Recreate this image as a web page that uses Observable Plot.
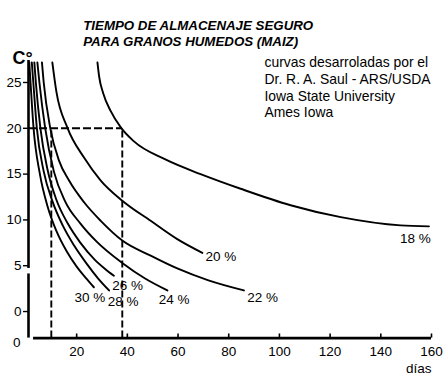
<!DOCTYPE html>
<html><head><meta charset="utf-8">
<script src="https://cdn.jsdelivr.net/npm/d3@7"></script>
<script src="https://cdn.jsdelivr.net/npm/@observablehq/plot@0.6"></script>
<style>
html,body{margin:0;padding:0;background:#fff;}
</style></head><body><div id="chart"></div>
<script>
// ---- data ----
const titleLines = ["TIEMPO DE ALMACENAJE SEGURO", "PARA GRANOS HUMEDOS (MAIZ)"];
const noteLines = ["curvas desarroladas por el", "Dr. R. A. Saul - ARS/USDA", "Iowa State University", "Ames Iowa"];
const yUnit = "C°";
const xUnit = "días";
const xTicks = [20, 40, 60, 80, 100, 120, 140, 160];
const yTicks = [0, 5, 10, 15, 20, 25];
const yFloor = -2.9;     // where the (broken) temperature axis meets the day axis, labelled "0"
const yTop = 27.4;
const xStart = 1;
const yAxisBreak = [4.1, 4.7];

const moisture = ["18 %", "20 %", "22 %", "24 %", "26 %", "28 %", "30 %"];
// [days, °C]
const curve18 = [[28.2,27.2],[28.9,25.6],[30.5,23.8],[33.4,21.9],[37.4,20.1],[42.5,18.6],[55,16.6],[68.9,15.0],[84.7,13.4],[104.4,11.6],[124.2,10.3],[147.8,9.4],[159,9.3]];
const curve20 = [[10.4,27.2],[12,24],[16.3,20.1],[22.9,16.8],[29.5,14.3],[38,12.1],[49.2,9.9],[59.7,7.9],[69.6,6.4]];
const curve22 = [[6.3,27.2],[7,25],[9.6,20],[13,16.5],[17,14.3],[23,11.9],[29.5,9.9],[38,7.75],[49.2,6.1],[59.7,4.7],[72,3.4],[86,2.3]];
const curve24 = [[4.5,27.2],[5.3,25],[7.6,20],[11,15.3],[15.5,12],[21.5,9.6],[28,7.6],[38,5.3],[47,3.6],[55.8,2.3]];
const curve26 = [[3.3,27.2],[3.9,25],[5.7,20],[8.5,15.5],[12,12.2],[16.5,9.6],[21.5,7.5],[27,5.7],[31,4.7],[34.7,3.9]];
const curve28 = [[2.3,27.2],[2.9,25],[4.3,20],[7,15.3],[10.5,12],[14.5,9.4],[19,7.2],[24,5.2],[28.5,3.6],[32.8,2.3]];
const curve30 = [[1.3,27.2],[1.8,25],[3,20],[5.5,15],[8.5,11.5],[12,8.8],[16,6.6],[20,4.9],[23.5,3.7],[26.8,2.65]];
const curves = [curve18, curve20, curve22, curve24, curve26, curve28, curve30];

// label anchors (left edge) in days / °C
const labelDays = [147.6, 70.8, 87.3, 52.4, 34.0, 32.3, 19.1];
const labelTemps = [7.97, 6.0, 1.56, 1.31, 2.84, 1.1, 1.5];

// example reading: 20 °C
const readTemp = 20;
const readDays = [10, 38];

// ---- tables ----
const rows = curves.flatMap((c, i) => c.map(([day, temp]) => ({pct: moisture[i], day, temp})));
const labels = moisture.map((t, i) => ({text: t, day: labelDays[i], temp: labelTemps[i]}));
const yAxisSegments = [[yFloor, yAxisBreak[0]], [yAxisBreak[1], yTop]];

const font = "'Liberation Sans', Arial, Helvetica, sans-serif";

const chart = Plot.plot({
  width: 443,
  height: 384,
  marginLeft: 28,
  marginRight: 12,
  marginTop: 60,
  marginBottom: 46.4,
  x: {domain: [xStart, 160]},
  y: {domain: [yFloor, yTop]},
  style: {fontFamily: font, fontSize: "13px", background: "#fff", color: "#000"},
  marks: [
    // axes lines
    Plot.ruleX(yAxisSegments, {x: () => xStart, y1: d => d[0], y2: d => d[1], stroke: "#000", strokeWidth: 2.6}),
    Plot.ruleY([yFloor], {x1: 3, x2: 160, stroke: "#000", strokeWidth: 2.6}),
    Plot.ruleX(xTicks, {x: d => d, y1: yFloor, y2: yFloor + 0.45, stroke: "#000", strokeWidth: 1.6}),
    Plot.axisY(yTicks, {anchor: "left", tickSize: 5, tickPadding: 2, fontSize: 13.5, label: null, strokeWidth: 1.4}),
    Plot.axisX(xTicks, {anchor: "bottom", tickSize: 0, tickPadding: 8, fontSize: 13.5, label: null}),
    Plot.text([yFloor], {frameAnchor: "left", y: d => d, text: () => "0", textAnchor: "end", dx: -8, dy: 4.5, fontSize: 13.5}),
    Plot.text([xUnit], {frameAnchor: "bottom-right", text: d => d, textAnchor: "end", dy: 34.5, fontSize: 13.5}),
    Plot.text([yUnit], {frameAnchor: "top-left", text: d => d, textAnchor: "start", dx: -16, dy: -9, fontSize: 18, fontWeight: "bold"}),
    // reading lines
    Plot.ruleY([readTemp], {x1: xStart, x2: readDays[1], stroke: "#000", strokeWidth: 1.9, strokeDasharray: "8,3"}),
    Plot.ruleX(readDays, {x: d => d, y1: yFloor, y2: readTemp, stroke: "#000", strokeWidth: 1.9, strokeDasharray: "7,3"}),
    // curves
    Plot.line(rows, {x: "day", y: "temp", z: "pct", stroke: "#000", strokeWidth: 1.9, curve: "monotone-x"}),
    Plot.text(labels, {x: "day", y: "temp", text: "text", textAnchor: "start", fontSize: 13.5}),
    // title & note
    Plot.text([titleLines.join("\n")], {frameAnchor: "top-left", text: d => d, textAnchor: "start", dx: 54.7, dy: -42, lineHeight: 1.2, fontSize: 13.3, fontWeight: "bold", fontStyle: "italic"}),
    Plot.text([noteLines.join("\n")], {frameAnchor: "top-left", text: d => d, textAnchor: "start", dx: 236, dy: -5, lineHeight: 1.2, fontSize: 13.9})
  ]
});
document.getElementById("chart").appendChild(chart);
</script>
</body></html>
